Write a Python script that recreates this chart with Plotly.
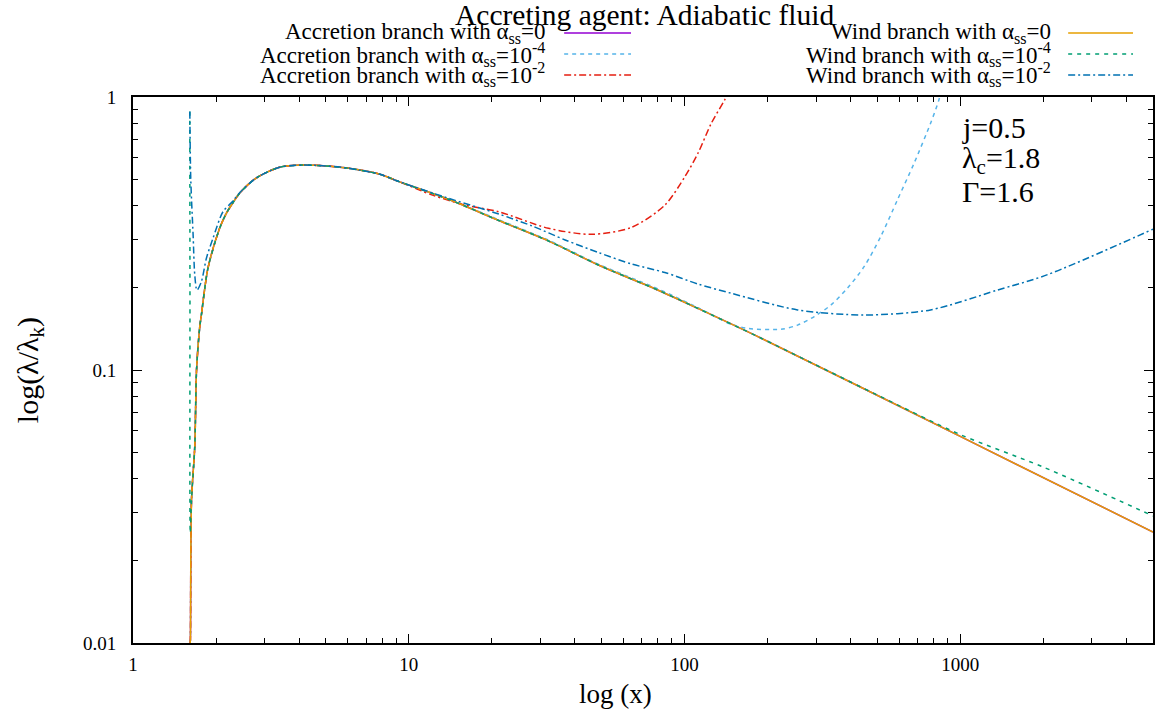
import plotly.graph_objects as go

# ---------------- data ----------------
# shared part of the curves (all branches coincide here)
common_x = [1.612, 1.615, 1.63, 1.675, 1.70, 1.746, 1.77, 1.87, 2.06, 2.18, 2.30, 2.44,
            2.80, 3.40, 4.11, 5.02, 5.98, 7.81, 9.22]
common_y = [0.010, 0.0103, 0.0334, 0.0524, 0.100, 0.1437, 0.159, 0.236, 0.330, 0.375, 0.409, 0.445,
            0.505, 0.553, 0.563, 0.559, 0.549, 0.522, 0.490]

# Accretion / wind branch, alpha_ss = 0
tail0_x = [14.0, 21.2, 32.1, 48.7, 80.3, 112, 189, 1000, 5000]
tail0_y = [0.421, 0.353, 0.297, 0.2425, 0.196, 0.168, 0.131, 0.0571, 0.0255]

# Accretion branch, alpha_ss = 1e-4
acc4_tail_x = [14.0, 21.2, 32.1, 48.7, 80.3, 112, 147.7, 169.7, 224, 257, 295.6, 339.6,
               390, 448, 514.6, 591.6, 679.6, 780, 836.6, 870]
acc4_tail_y = [0.421, 0.355, 0.299, 0.244, 0.198, 0.169, 0.147, 0.142, 0.141, 0.146, 0.157, 0.173,
               0.1995, 0.239, 0.308, 0.4196, 0.571, 0.80, 0.975, 1.15]

# Accretion branch, alpha_ss = 1e-2
acc2_tail_x = [12.2, 16.0, 21.2, 32.1, 46.1, 64.3, 84.9, 100.3, 112, 125, 139.8, 156]
acc2_tail_y = [0.437, 0.402, 0.380, 0.3305, 0.314, 0.333, 0.402, 0.5105, 0.6235, 0.80, 0.975, 1.2]

# Wind branch, alpha_ss = 1e-4
wind4_head_x = [1.607, 1.609, 1.613]
wind4_head_y = [0.884, 0.20, 0.0253]
wind4_tail_x = [14.0, 21.2, 32.1, 48.7, 80.3, 112, 189, 500, 1000, 2000, 5000]
wind4_tail_y = [0.421, 0.353, 0.297, 0.2425, 0.196, 0.168, 0.131, 0.081, 0.058, 0.0441, 0.0292]

# Wind branch, alpha_ss = 1e-2
wind2_head_x = [1.607, 1.62, 1.652, 1.675, 1.706, 1.77, 1.846, 1.95, 2.12, 2.30, 2.44,
                2.80, 3.40, 4.11, 5.02, 5.98, 7.81, 9.22]
wind2_head_y = [0.884, 0.50, 0.312, 0.223, 0.196, 0.2106, 0.2566, 0.3037, 0.380, 0.415, 0.447,
                0.505, 0.553, 0.563, 0.559, 0.549, 0.522, 0.490]
wind2_tail_x = [14.0, 21.2, 28.0, 36.9, 48.7, 64.3, 84.9, 112, 147.7, 257, 448, 780, 1359, 2061, 5000]
wind2_tail_y = [0.425, 0.3727, 0.337, 0.2995, 0.2694, 0.2445, 0.2276, 0.2065, 0.191, 0.166, 0.159,
                0.166, 0.196, 0.223, 0.328]

x_ticks = [1, 10, 100, 1000]
x_ticktext = ["1", "10", "100", "1000"]
y_ticks = [0.01, 0.1, 1]
y_ticktext = ["0.01", "0.1", "1"]

series = [
    ("Accretion branch with α<sub>ss</sub>=0", common_x + tail0_x, common_y + tail0_y, "#9400d3", "solid"),
    ("Accretion branch with α<sub>ss</sub>=10<sup>-4</sup>", common_x + acc4_tail_x, common_y + acc4_tail_y, "#56b4e9", "4px,4px"),
    ("Accretion branch with α<sub>ss</sub>=10<sup>-2</sup>", common_x + acc2_tail_x, common_y + acc2_tail_y, "#e51e10", "7px,3px,2px,3px"),
    ("Wind branch with α<sub>ss</sub>=0", common_x + tail0_x, common_y + tail0_y, "#e69f00", "solid"),
    ("Wind branch with α<sub>ss</sub>=10<sup>-4</sup>", wind4_head_x + common_x[2:] + wind4_tail_x,
     wind4_head_y + common_y[2:] + wind4_tail_y, "#009e73", "4px,5px"),
    ("Wind branch with α<sub>ss</sub>=10<sup>-2</sup>", wind2_head_x + wind2_tail_x, wind2_head_y + wind2_tail_y, "#0072b2", "7px,3px,2px,3px"),
]

FONT = "Liberation Serif"

fig = go.Figure()
for name, xs, ys, col, dash in series:
    fig.add_trace(go.Scatter(x=xs, y=ys, mode="lines", name=name, showlegend=False,
                             line=dict(color=col, width=1.5, dash=dash, shape="spline", smoothing=0.8)))

# manual legend laid out like the reference (text then sample)
L, R, T, B = 133, 1155, 97, 643
def px(X):
    return (X - L) / (R - L)
def py(Y):
    return (B - Y) / (B - T)

annotations = []
shapes = []
rows_y = [33, 54, 75]
cols = [(548, 565, 632), (1055, 1070, 1135)]
for i, (name, xs, ys, col, dash) in enumerate(series):
    c = i // 3
    r = i % 3
    tx, s0, s1 = cols[c]
    annotations.append(dict(text=name, x=px(tx), y=py(rows_y[r]), xref="paper", yref="paper",
                            xanchor="right", yanchor="middle", showarrow=False,
                            font=dict(family=FONT, size=23, color="black")))
    shapes.append(dict(type="line", xref="paper", yref="paper", x0=px(s0), x1=px(s1),
                       y0=py(rows_y[r]), y1=py(rows_y[r]), line=dict(color=col, width=1.5, dash=dash)))

# title
annotations.append(dict(text="Accreting agent: Adiabatic fluid", x=px(646), y=py(15), xref="paper", yref="paper",
                        xanchor="center", yanchor="middle", showarrow=False,
                        font=dict(family=FONT, size=29.5, color="black")))
# parameter box
for txt, yy in [("j=0.5", 127), ("λ<sub>c</sub>=1.8", 160), ("Γ=1.6", 191)]:
    annotations.append(dict(text=txt, x=px(962), y=py(yy), xref="paper", yref="paper",
                            xanchor="left", yanchor="middle", showarrow=False,
                            font=dict(family=FONT, size=30, color="black")))
# axis titles
annotations.append(dict(text="log (x)", x=px(616), y=py(694), xref="paper", yref="paper",
                        xanchor="center", yanchor="middle", showarrow=False,
                        font=dict(family=FONT, size=27, color="black")))
annotations.append(dict(text="log(λ/λ<sub>k</sub>)", x=px(30), y=py(370), xref="paper", yref="paper",
                        xanchor="center", yanchor="middle", showarrow=False, textangle=-90,
                        font=dict(family=FONT, size=30, color="black")))

axis_common = dict(type="log", showgrid=False, zeroline=False, showline=True, linecolor="black",
                   linewidth=2, mirror="ticks", ticks="inside", ticklen=9, tickwidth=1.2,
                   tickcolor="black",
                   tickfont=dict(family=FONT, size=19, color="black"),
                   minor=dict(ticks="inside", ticklen=5, tickwidth=1, tickcolor="black",
                              dtick="D1", showgrid=False))

fig.update_layout(
    width=1155, height=721,
    margin=dict(l=L, r=1155 - R, t=T, b=721 - B, pad=0),
    plot_bgcolor="white", paper_bgcolor="white",
    xaxis=dict(axis_common, range=[0, 3.699], tickvals=x_ticks, ticktext=x_ticktext,
               ticklabelstandoff=3),
    yaxis=dict(axis_common, range=[-2, 0], tickvals=y_ticks, ticktext=y_ticktext,
               ticklabelstandoff=11),
    annotations=annotations,
    shapes=shapes,
)

fig.write_html("out.html", config={"displayModeBar": False},
               post_script="document.body.style.margin='0px';")
